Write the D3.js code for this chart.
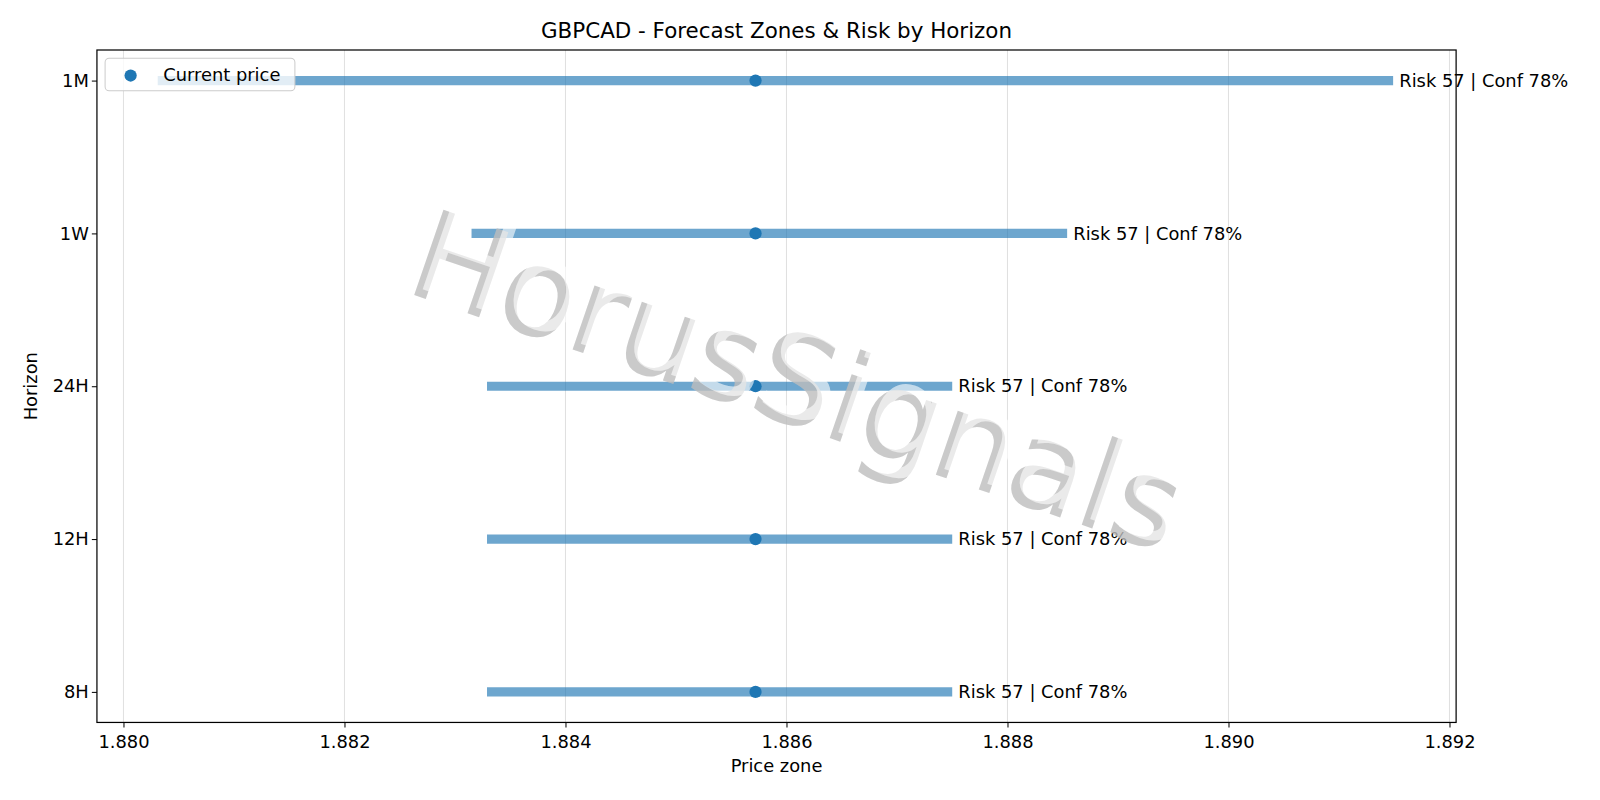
<!DOCTYPE html><html><head><meta charset="utf-8"><script src="https://cdn.jsdelivr.net/npm/d3@7"></script>
<style>body{margin:0;background:#fff}text{font-family:"DejaVu Sans",sans-serif}</style></head><body><svg id="c" width="1600" height="800"></svg><script>
const horizons=["1M","1W","24H","12H","8H"];
const lows=[1.88031,1.88315,1.88329,1.88329,1.88329];
const highs=[1.89149,1.88854,1.88750,1.88750,1.88750];
const current=[1.88572,1.88572,1.88572,1.88572,1.88572];
const labels=["Risk 57 | Conf 78%","Risk 57 | Conf 78%","Risk 57 | Conf 78%","Risk 57 | Conf 78%","Risk 57 | Conf 78%"];
const xTicks=[1.880,1.882,1.884,1.886,1.888,1.890,1.892];
const svg=d3.select("#c").append("g").attr("transform","scale(1.0204)");
const L=95,R=1427,T=49,B=708;
const x=d3.scaleLinear().domain([1.87976,1.89206]).range([L,R]);
const y=d3.scaleLinear().domain([-0.2,4.2]).range([T,B]);
const yi=i=>y(i);
const g=svg.append("g");
g.selectAll(".gr").data(xTicks).join("line").attr("x1",d=>x(d)).attr("x2",d=>x(d)).attr("y1",T).attr("y2",B).attr("stroke","#e0e0e0").attr("stroke-width",1);
g.selectAll(".bar").data(horizons).join("line").attr("x1",(d,i)=>x(lows[i])).attr("x2",(d,i)=>x(highs[i])).attr("y1",(d,i)=>yi(i)).attr("y2",(d,i)=>yi(i)).attr("stroke","#1f77b4").attr("stroke-opacity",0.65).attr("stroke-width",9);
g.selectAll(".pt").data(horizons).join("circle").attr("cx",(d,i)=>x(current[i])).attr("cy",(d,i)=>yi(i)).attr("r",6).attr("fill","#1f77b4");
g.selectAll(".lb").data(horizons).join("text").attr("x",(d,i)=>x(highs[i])+6).attr("y",(d,i)=>yi(i)+6).attr("font-size",17.5).text((d,i)=>labels[i]);
const wm=svg.append("g").attr("transform","translate(776,408) rotate(19)");
wm.append("text").attr("x",-6).attr("y",8).attr("text-anchor","middle").attr("font-size",121).attr("fill","#bdbdbd").attr("fill-opacity",0.8).text("HorusSignals");
wm.append("text").attr("x",0).attr("y",0).attr("text-anchor","middle").attr("font-size",121).attr("fill","#fff").attr("fill-opacity",0.6).text("HorusSignals");
svg.append("rect").attr("x",L).attr("y",T).attr("width",R-L).attr("height",B-T).attr("fill","none").attr("stroke","#000").attr("stroke-width",1.2);
const xa=svg.append("g").attr("transform",`translate(0,${B})`).call(d3.axisBottom(x).tickValues(xTicks).tickFormat(d3.format(".3f")).tickSize(5).tickSizeOuter(0));
xa.select(".domain").remove();xa.selectAll("text").attr("font-size",17.5).attr("dy","1.0em").attr("font-family","DejaVu Sans");
const ya=svg.append("g").attr("transform",`translate(${L},0)`).call(d3.axisLeft(y).tickValues(d3.range(horizons.length)).tickFormat(i=>horizons[i]).tickSize(5).tickSizeOuter(0));
ya.select(".domain").remove();ya.selectAll("text").attr("font-size",17.5).attr("font-family","DejaVu Sans");
svg.append("text").attr("x",(L+R)/2).attr("y",37).attr("text-anchor","middle").attr("font-size",21).text("GBPCAD - Forecast Zones & Risk by Horizon");
svg.append("text").attr("x",(L+R)/2).attr("y",757).attr("text-anchor","middle").attr("font-size",17.5).text("Price zone");
svg.append("text").attr("transform",`translate(36,${(T+B)/2}) rotate(-90)`).attr("text-anchor","middle").attr("font-size",17.5).text("Horizon");
const lg=svg.append("g").attr("transform","translate(103,57)");
lg.append("rect").attr("width",186).attr("height",32).attr("rx",4).attr("fill","#fff").attr("fill-opacity",0.8).attr("stroke","#ccc");
lg.append("circle").attr("cx",25).attr("cy",17).attr("r",6).attr("fill","#1f77b4");
lg.append("text").attr("x",57).attr("y",22.5).attr("font-size",17.5).text("Current price");
</script></body></html>
